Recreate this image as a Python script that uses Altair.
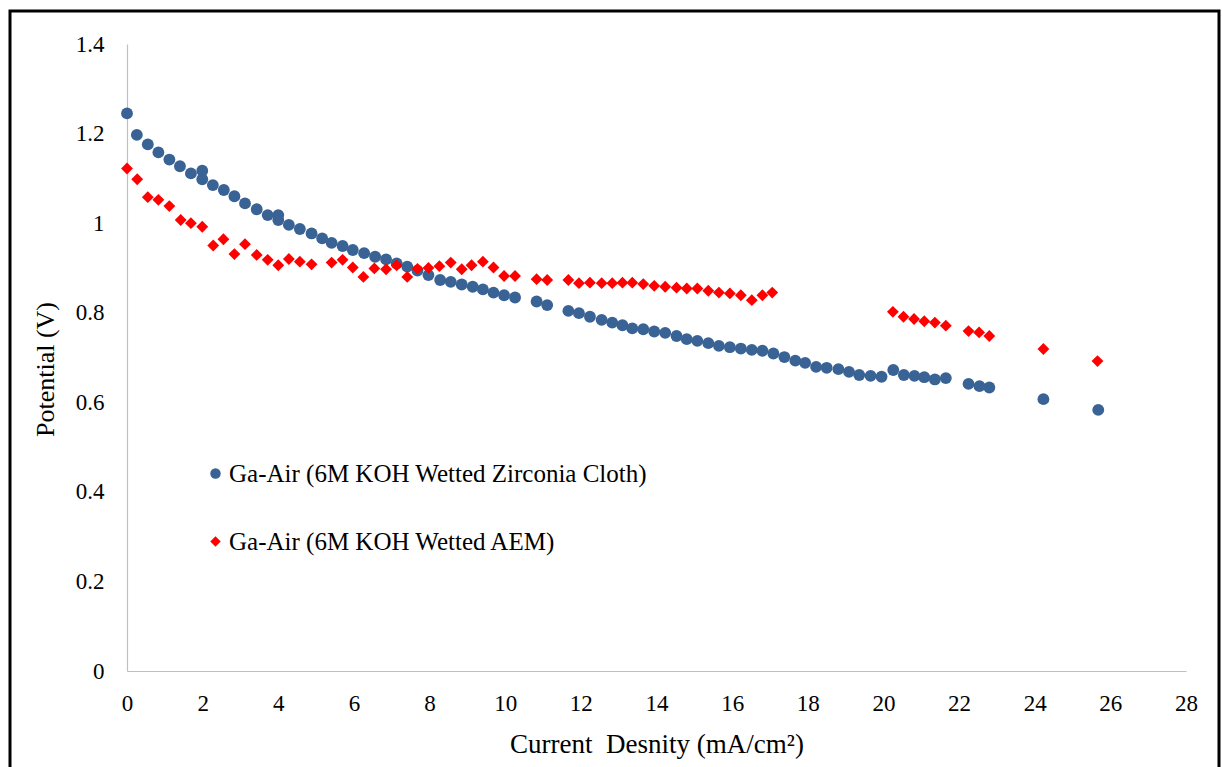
import altair as alt
import pandas as pd

# Polarization data: potential (V) versus current density (mA/cm^2)
zirconia_current = [0.00, 0.26, 0.55, 0.83, 1.12, 1.40, 1.69, 1.99, 1.99, 2.27,
                    2.56, 2.84, 3.12, 3.43, 3.72, 4.00, 4.00, 4.28, 4.57, 4.88,
                    5.16, 5.41, 5.70, 5.97, 6.27, 6.56, 6.85, 7.13, 7.41, 7.68,
                    7.97, 8.28, 8.56, 8.85, 9.14, 9.41, 9.69, 9.97, 10.26, 10.83,
                    11.11, 11.67, 11.95, 12.24, 12.55, 12.83, 13.10, 13.36, 13.65, 13.94,
                    14.23, 14.53, 14.80, 15.08, 15.37, 15.65, 15.94, 16.23, 16.52, 16.80,
                    17.09, 17.38, 17.67, 17.93, 18.22, 18.50, 18.81, 19.09, 19.36, 19.66,
                    19.95, 20.26, 20.54, 20.82, 21.08, 21.36, 21.65, 22.25, 22.54, 22.80,
                    24.23, 25.68]
zirconia_potential = [1.245, 1.197, 1.176, 1.158, 1.142, 1.127, 1.111, 1.117, 1.098, 1.085,
                      1.074, 1.060, 1.044, 1.031, 1.018, 1.018, 1.007, 0.996, 0.987, 0.977,
                      0.966, 0.956, 0.949, 0.940, 0.933, 0.925, 0.919, 0.910, 0.903, 0.894,
                      0.884, 0.873, 0.869, 0.863, 0.858, 0.852, 0.845, 0.839, 0.834, 0.825,
                      0.817, 0.804, 0.799, 0.791, 0.784, 0.778, 0.772, 0.765, 0.763, 0.758,
                      0.755, 0.748, 0.741, 0.737, 0.732, 0.726, 0.723, 0.720, 0.717, 0.715,
                      0.709, 0.701, 0.693, 0.688, 0.679, 0.677, 0.674, 0.668, 0.661, 0.659,
                      0.657, 0.672, 0.661, 0.659, 0.656, 0.651, 0.654, 0.641, 0.636, 0.633,
                      0.607, 0.583]

aem_current = [0.00, 0.27, 0.55, 0.83, 1.12, 1.42, 1.69, 1.99, 2.28, 2.55,
               2.84, 3.12, 3.43, 3.72, 4.00, 4.28, 4.57, 4.88, 5.41, 5.70,
               5.97, 6.25, 6.54, 6.85, 7.13, 7.41, 7.68, 7.97, 8.26, 8.56,
               8.85, 9.11, 9.41, 9.69, 9.97, 10.26, 10.83, 11.11, 11.67, 11.95,
               12.24, 12.55, 12.83, 13.10, 13.36, 13.65, 13.94, 14.23, 14.53, 14.80,
               15.08, 15.37, 15.65, 15.94, 16.23, 16.52, 16.80, 17.06, 20.25, 20.53,
               20.81, 21.08, 21.36, 21.65, 22.25, 22.53, 22.80, 24.23, 25.66]
aem_potential = [1.122, 1.098, 1.058, 1.052, 1.038, 1.007, 1.000, 0.992, 0.950, 0.964,
                 0.931, 0.953, 0.929, 0.918, 0.906, 0.920, 0.914, 0.908, 0.912, 0.918,
                 0.901, 0.880, 0.899, 0.897, 0.906, 0.880, 0.898, 0.900, 0.904, 0.912,
                 0.897, 0.906, 0.914, 0.901, 0.882, 0.882, 0.875, 0.873, 0.873, 0.866,
                 0.867, 0.866, 0.866, 0.867, 0.867, 0.864, 0.860, 0.858, 0.856, 0.854,
                 0.854, 0.849, 0.845, 0.843, 0.839, 0.828, 0.839, 0.845, 0.802, 0.791,
                 0.786, 0.781, 0.778, 0.771, 0.759, 0.756, 0.748, 0.719, 0.692]

series_names = ["Ga-Air (6M KOH Wetted Zirconia Cloth)", "Ga-Air (6M KOH Wetted AEM)"]
series_colors = ["#3a6395", "#ff0000"]
series_shapes = ["circle", "diamond"]

x_ticks = list(range(0, 29, 2))
y_ticks = [0, 0.2, 0.4, 0.6, 0.8, 1.0, 1.2, 1.4]

FONT = "Liberation Serif"
# two spaces between the words, kept as a non-breaking pair so SVG does not collapse them
X_TITLE = "Current\u00a0\u00a0Desnity (mA/cm²)"

df = pd.concat([
    pd.DataFrame({"current": zirconia_current, "potential": zirconia_potential,
                  "series": series_names[0]}),
    pd.DataFrame({"current": aem_current, "potential": aem_potential,
                  "series": series_names[1]}),
], ignore_index=True)

points = alt.Chart(df).mark_point(filled=True, size=140, opacity=1, strokeWidth=0).encode(
    x=alt.X("current:Q",
            scale=alt.Scale(domain=[0, 28], nice=False),
            axis=alt.Axis(values=x_ticks, grid=False, ticks=False, tickSize=0,
                          labelFlush=False,
                          domainColor="#bfbfbf", domainWidth=1.2,
                          labelFont=FONT, labelFontSize=23, labelColor="#000000",
                          labelPadding=21,
                          title=X_TITLE,
                          titleFont=FONT, titleFontSize=27, titleFontWeight="normal",
                          titleColor="#000000", titleBaseline="alphabetic",
                          titleY=81)),
    y=alt.Y("potential:Q",
            scale=alt.Scale(domain=[0, 1.4], nice=False),
            axis=alt.Axis(values=y_ticks, format=".1~f", grid=False, ticks=False,
                          tickSize=0, labelFlush=False,
                          domainColor="#bfbfbf", domainWidth=1.2,
                          labelFont=FONT, labelFontSize=23, labelColor="#000000",
                          labelPadding=23,
                          title="Potential (V)",
                          titleFont=FONT, titleFontSize=26, titleFontWeight="normal",
                          titleColor="#000000", titleAngle=270,
                          titleAlign="center", titleBaseline="middle",
                          titleX=-82, titleY=325)),
    color=alt.Color("series:N",
                    scale=alt.Scale(domain=series_names, range=series_colors),
                    legend=alt.Legend(title=None, orient="none", legendX=76, legendY=417,
                                      direction="vertical", labelFont=FONT,
                                      labelFontSize=25, labelColor="#000000",
                                      labelLimit=800, labelOffset=1, rowPadding=42,
                                      symbolSize=110, symbolStrokeWidth=0,
                                      padding=0)),
    shape=alt.Shape("series:N",
                    scale=alt.Scale(domain=series_names, range=series_shapes)),
    order=alt.Order("series_rank:Q"),
).transform_calculate(
    series_rank="indexof(['%s', '%s'], datum.series)" % (series_names[0], series_names[1])
)

# Outer black frame around the whole figure
frame = alt.Chart(pd.DataFrame({"f": [0]})).mark_rect(
    fillOpacity=0, stroke="#000000", strokeWidth=3, clip=False
).encode(
    x=alt.value(-117), x2=alt.value(1092),
    y=alt.value(-33), y2=alt.value(740),
)

chart = alt.layer(points, frame).properties(
    width=1059, height=627,
    padding={"left": 127, "top": 44, "right": 36, "bottom": 96},
    autosize=alt.AutoSizeParams(type="none"),
    background="#ffffff",
).configure_view(strokeWidth=0)

chart.save("out.html", embed_options={"renderer": "svg", "actions": False})
